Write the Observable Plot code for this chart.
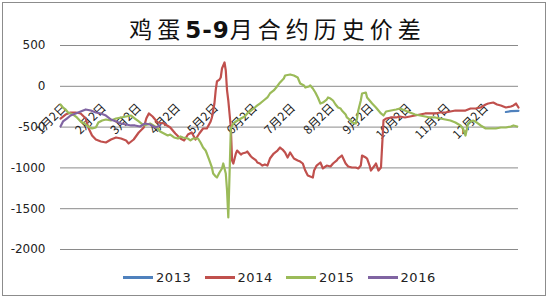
<!DOCTYPE html>
<html>
<head>
<meta charset="utf-8">
<script src="https://cdn.jsdelivr.net/npm/d3@7"></script>
<script src="https://cdn.jsdelivr.net/npm/@observablehq/plot@0.6"></script>
<style>
  html, body { margin: 0; padding: 0; background: #fff; }
  #wrap { position: relative; width: 550px; height: 300px; overflow: hidden; }
  #border { position: absolute; left: 2px; top: 2px; width: 544px; height: 294px; border: 1px solid #8c8c8c; box-sizing: border-box; }
  #title { position: absolute; left: 0; top: 15px; width: 550px; text-align: center; font-family: "Noto Sans CJK SC", sans-serif; font-size: 23px; line-height: 26px; letter-spacing: 5px; padding-left: 5px; box-sizing: border-box; color: #111; }
  #title b { font-family: "DejaVu Sans", sans-serif; font-weight: bold; letter-spacing: 1px; }
  #chart { position: absolute; left: 0; top: 0; }
  .leg { position: absolute; top: 268px; height: 18px; display: flex; align-items: center; font-family: "DejaVu Sans", sans-serif; font-size: 13px; letter-spacing: 0.6px; color: #222; }
  .leg span.sw { display: inline-block; width: 30px; height: 3px; margin-right: 3px; }
</style>
</head>
<body>
<div id="wrap">
  <div id="border"></div>
  <div id="chart"></div>
  <div id="title">鸡蛋<b>5-9</b>月合约历史价差</div>
</div>
<script>
// ---- data (day = day of year, Jan 1 = 1) ----
const seriesNames = ["2013", "2014", "2015", "2016"];

const s2013 = [[355,-315],[359,-305],[365,-300]];

const s2014 = [[2,-395],[6,-346],[10,-321],[14,-321],[18,-333],[22,-395],[24,-505],[27,-603],[30,-652],[34,-676],[38,-689],[42,-652],[46,-627],[50,-640],[54,-664],[56,-701],[60,-652],[64,-566],[68,-505],[70,-395],[72,-333],[75,-370],[79,-444],[84,-456],[89,-505],[93,-578],[97,-640],[100,-664],[103,-591],[106,-566],[109,-652],[112,-578],[115,-517],[118,-517],[121,-431],[122,-382],[124,-211],[125,-51],[126,59],[128,83],[129,108],[130,218],[132,292],[133,194],[134,-51],[135,-174],[137,-505],[138,-909],[139,-946],[141,-824],[142,-787],[145,-836],[146,-824],[149,-811],[150,-799],[153,-860],[154,-873],[157,-909],[158,-934],[160,-946],[162,-971],[164,-958],[166,-971],[168,-885],[171,-824],[174,-787],[176,-750],[178,-775],[180,-811],[182,-873],[184,-811],[187,-885],[190,-909],[192,-922],[194,-946],[196,-1032],[198,-1093],[200,-1106],[202,-1118],[203,-1032],[205,-971],[208,-934],[210,-1007],[213,-971],[216,-983],[218,-946],[221,-909],[222,-885],[225,-848],[228,-946],[230,-983],[233,-995],[236,-995],[238,-1007],[240,-971],[241,-848],[244,-873],[245,-885],[247,-971],[248,-1032],[251,-971],[252,-946],[254,-1032],[256,-995],[258,-419],[260,-395],[264,-382],[268,-382],[271,-370],[275,-382],[279,-370],[283,-358],[287,-346],[291,-333],[295,-333],[299,-333],[303,-321],[307,-321],[311,-309],[315,-297],[319,-297],[323,-297],[327,-272],[331,-272],[335,-260],[339,-223],[341,-211],[345,-199],[348,-223],[351,-235],[355,-260],[359,-248],[361,-235],[363,-211],[365,-260]];

const s2015 = [[2,-223],[4,-260],[6,-284],[8,-321],[12,-346],[15,-382],[18,-431],[21,-456],[24,-493],[27,-517],[30,-505],[32,-444],[35,-419],[38,-407],[42,-419],[46,-395],[50,-382],[54,-370],[58,-358],[61,-395],[64,-431],[68,-480],[71,-468],[73,-456],[77,-493],[79,-517],[81,-554],[84,-578],[87,-603],[89,-591],[92,-627],[95,-640],[97,-615],[99,-627],[103,-640],[105,-664],[107,-640],[111,-640],[113,-689],[115,-750],[117,-787],[118,-824],[120,-909],[122,-995],[123,-1069],[125,-1105],[126,-1118],[128,-1056],[130,-1007],[131,-946],[133,-1069],[134,-1277],[135,-1608],[136,-1069],[137,-517],[139,-456],[141,-431],[145,-395],[148,-370],[150,-333],[153,-297],[155,-272],[158,-235],[160,-211],[163,-174],[166,-137],[168,-88],[171,-51],[173,-15],[176,47],[179,96],[180,132],[184,145],[187,132],[190,108],[192,34],[195,10],[196,-15],[199,-2],[200,10],[202,-27],[204,-76],[206,-137],[208,-211],[210,-199],[213,-162],[214,-137],[216,-150],[218,-174],[220,-223],[222,-260],[224,-272],[225,-297],[228,-346],[229,-382],[232,-419],[233,-444],[236,-456],[237,-395],[238,-297],[240,-174],[241,-88],[244,-76],[245,-137],[247,-174],[249,-211],[252,-260],[254,-297],[256,-333],[258,-358],[260,-309],[264,-297],[268,-284],[271,-272],[275,-297],[279,-321],[283,-346],[287,-358],[291,-370],[295,-382],[299,-382],[303,-395],[307,-407],[311,-419],[315,-444],[319,-480],[321,-517],[323,-603],[325,-456],[327,-431],[329,-419],[332,-444],[335,-480],[339,-517],[343,-517],[347,-517],[351,-505],[355,-505],[359,-493],[361,-480],[364,-493]];

const s2016 = [[2,-493],[4,-431],[7,-395],[10,-358],[14,-333],[18,-309],[22,-284],[26,-297],[30,-321],[34,-333],[38,-358],[42,-407],[46,-431],[50,-456],[54,-468],[58,-480],[61,-480],[65,-493],[69,-456],[73,-468],[77,-505],[81,-480]];

const tickDates = ["2014-01-02","2014-02-02","2014-03-02","2014-04-02","2014-05-02","2014-06-02","2014-07-02","2014-08-02","2014-09-02","2014-10-02","2014-11-02","2014-12-02"];
const tickLabels = ["1月2日","2月2日","3月2日","4月2日","5月2日","6月2日","7月2日","8月2日","9月2日","10月2日","11月2日","12月2日"];
const yTicks = [500, 0, -500, -1000, -1500, -2000];

// ---- styles ----
const colors = ["#4F81BD", "#C0504D", "#9BBB59", "#8064A2"];

const toDate = day => new Date(Date.UTC(2014, 0, day));
const allSeries = [s2013, s2014, s2015, s2016];
const tables = allSeries.map(s => s.map(([day, v]) => ({date: toDate(day), value: v})));
const xTicks = tickDates.map((d, i) => ({date: new Date(d), label: tickLabels[i]}));

const chart = Plot.plot({
  width: 550,
  height: 300,
  marginTop: 45,
  marginBottom: 51,
  marginLeft: 60,
  marginRight: 32,
  style: {fontFamily: "DejaVu Sans, sans-serif", fontSize: "12px", background: "transparent"},
  x: {type: "utc", domain: [new Date("2014-01-02"), new Date("2014-12-31")], axis: null},
  y: {domain: [-2000, 500], axis: null},
  marks: [
    Plot.gridY(yTicks, {stroke: "#8a8a8a", strokeOpacity: 1, strokeWidth: 1}),
    Plot.axisY(yTicks, {tickSize: 0, tickPadding: 15, label: null, fill: "#222", fontSize: 12, tickFormat: d => String(d)}),
    Plot.text(xTicks, {x: "date", text: "label", frameAnchor: "top", dy: 57, dx: 1, rotate: -45, textAnchor: "end", fontSize: 12, fontFamily: "Noto Sans CJK SC, sans-serif", fill: "#222"}),
    ...tables.map((t, i) => Plot.line(t, {x: "date", y: "value", stroke: colors[i], strokeWidth: 2.2, strokeLinejoin: "round"}))
  ]
});
document.getElementById("chart").appendChild(chart);

// legend
const wrap = document.getElementById("wrap");
seriesNames.forEach((name, i) => {
  const item = document.createElement("div");
  item.className = "leg";
  item.style.left = (123 + i * 81.5) + "px";
  const sw = document.createElement("span");
  sw.className = "sw";
  sw.style.background = colors[i];
  const tx = document.createElement("span");
  tx.textContent = name;
  item.appendChild(sw);
  item.appendChild(tx);
  wrap.appendChild(item);
});
</script>
</body>
</html>
